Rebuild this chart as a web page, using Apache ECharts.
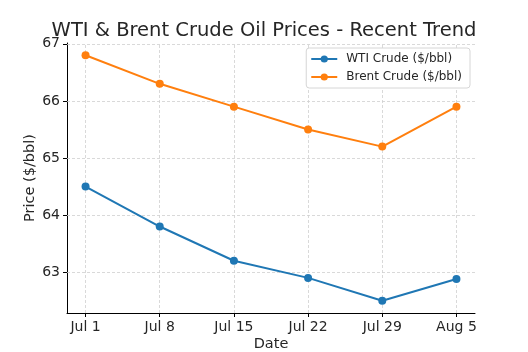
<!DOCTYPE html>
<html>
<head>
<meta charset="utf-8">
<script src="https://cdn.jsdelivr.net/npm/echarts@6/dist/echarts.min.js"></script>
<style>
  html, body { margin: 0; padding: 0; background: #fff; }
  #box { width: 528px; height: 352px; }
</style>
</head>
<body>
<div id="box"></div>
<script>
// data
var dates = ['Jul 1', 'Jul 8', 'Jul 15', 'Jul 22', 'Jul 29', 'Aug 5'];
var wti = [64.5, 63.8, 63.2, 62.9, 62.5, 62.88];
var brent = [66.8, 66.3, 65.9, 65.5, 65.2, 65.9];
var yTicks = [63, 64, 65, 66, 67];

var xIdx = dates.map(function (d, i) { return i; });
function pairs(vals) {
    return vals.map(function (v, i) { return [i, v]; });
}

var font = 'DejaVu Sans';
var textColor = '#262626';

var chart = echarts.init(document.getElementById('box'));
var option = {
    backgroundColor: '#fff',
    animation: false,
    textStyle: { fontFamily: font },
    title: {
        text: 'WTI & Brent Crude Oil Prices - Recent Trend',
        left: 'center',
        top: 16,
        textStyle: { fontFamily: font, fontSize: 19.5, fontWeight: 'normal', color: textColor }
    },
    legend: {
        right: 58,
        top: 48,
        orient: 'vertical',
        backgroundColor: '#fff',
        borderColor: '#d6d6d6',
        borderWidth: 1,
        borderRadius: 3,
        padding: [5, 8, 5, 4],
        itemGap: 6,
        itemWidth: 26,
        itemHeight: 9,
        textStyle: { fontFamily: font, fontSize: 12, color: textColor, padding: [0, 0, 0, 4] }
    },
    grid: { left: 67, right: 53, top: 43, bottom: 39, outerBoundsMode: 'none', containLabel: false },
    xAxis: {
        type: 'value',
        min: -0.25,
        max: 5.25,
        name: 'Date',
        nameLocation: 'middle',
        nameGap: 24,
        nameMoveOverlap: false,
        nameTextStyle: { fontFamily: font, fontSize: 14.5, color: textColor },
        axisLine: { show: true, onZero: false, lineStyle: { color: '#000', width: 1 } },
        axisTick: { show: true, length: 4, customValues: xIdx, lineStyle: { color: '#000' } },
        axisLabel: {
            customValues: xIdx,
            fontFamily: font, fontSize: 14, color: textColor, margin: 7,
            formatter: function (v) { return dates[Math.round(v)]; }
        },
        splitLine: { show: false }
    },
    yAxis: {
        type: 'value',
        min: 62.285,
        max: 67.015,
        name: 'Price ($/bbl)',
        nameLocation: 'middle',
        nameGap: 29,
        nameMoveOverlap: false,
        nameTextStyle: { fontFamily: font, fontSize: 14.5, color: textColor },
        axisLine: { show: true, onZero: false, lineStyle: { color: '#000', width: 1 } },
        axisTick: { show: true, length: 4, customValues: yTicks, lineStyle: { color: '#000' } },
        axisLabel: { customValues: yTicks, fontFamily: font, fontSize: 14, color: textColor, margin: 7 },
        splitLine: { show: false }
    },
    series: [
        {
            name: 'WTI Crude ($/bbl)',
            type: 'line',
            data: pairs(wti),
            color: '#1f77b4',
            symbol: 'circle',
            symbolSize: 8,
            lineStyle: { width: 2 },
            z: 3,
            // grid lines drawn from the tick values
            markLine: {
                silent: true,
                symbol: 'none',
                label: { show: false },
                lineStyle: { color: '#cfcfcf', type: [3, 2], width: 0.8 },
                data: xIdx.map(function (i) { return { xAxis: i }; })
                    .concat(yTicks.map(function (t) { return { yAxis: t }; })),
                z: 1
            }
        },
        {
            name: 'Brent Crude ($/bbl)',
            type: 'line',
            data: pairs(brent),
            color: '#ff7f0e',
            symbol: 'circle',
            symbolSize: 8,
            lineStyle: { width: 2 },
            z: 3
        }
    ]
};
chart.setOption(option);
</script>
</body>
</html>
